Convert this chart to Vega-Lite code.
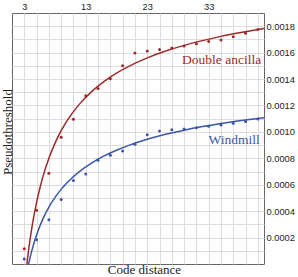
{
  "$schema": "https://vega.github.io/schema/vega-lite/v6.json",
  "width": 252,
  "height": 251,
  "autosize": {"type": "none"},
  "padding": {"left": 12, "top": 13, "right": 34, "bottom": 13},
  "background": "white",
  "config": {
    "view": {"stroke": "#666666", "strokeWidth": 1},
    "axis": {
      "labelFont": "Liberation Sans",
      "labelFontSize": 9.3,
      "labelColor": "#222222",
      "titleFont": "Liberation Serif",
      "titleFontSize": 13,
      "titleFontWeight": "normal",
      "titleColor": "#222222",
      "gridColor": "#dddddd",
      "gridWidth": 1,
      "domain": false,
      "ticks": false,
      "tickSize": 0
    }
  },
  "datasets": {
    "curves": [
      {"d": 3.42, "value": 0, "series": "Double ancilla"},
      {"d": 3.6, "value": 0.0000694, "series": "Double ancilla"},
      {"d": 3.8, "value": 0.000140, "series": "Double ancilla"},
      {"d": 4.0, "value": 0.000205, "series": "Double ancilla"},
      {"d": 4.3, "value": 0.000294, "series": "Double ancilla"},
      {"d": 4.6, "value": 0.000373, "series": "Double ancilla"},
      {"d": 5.0, "value": 0.000467, "series": "Double ancilla"},
      {"d": 5.5, "value": 0.000568, "series": "Double ancilla"},
      {"d": 6.0, "value": 0.000656, "series": "Double ancilla"},
      {"d": 7.0, "value": 0.000800, "series": "Double ancilla"},
      {"d": 8.0, "value": 0.000915, "series": "Double ancilla"},
      {"d": 9.0, "value": 0.001009, "series": "Double ancilla"},
      {"d": 10.0, "value": 0.001087, "series": "Double ancilla"},
      {"d": 12.0, "value": 0.001212, "series": "Double ancilla"},
      {"d": 14.0, "value": 0.001307, "series": "Double ancilla"},
      {"d": 16.0, "value": 0.001383, "series": "Double ancilla"},
      {"d": 18.0, "value": 0.001445, "series": "Double ancilla"},
      {"d": 20.0, "value": 0.001496, "series": "Double ancilla"},
      {"d": 23.0, "value": 0.001560, "series": "Double ancilla"},
      {"d": 26.0, "value": 0.001612, "series": "Double ancilla"},
      {"d": 29.0, "value": 0.001655, "series": "Double ancilla"},
      {"d": 32.0, "value": 0.001691, "series": "Double ancilla"},
      {"d": 35.0, "value": 0.001723, "series": "Double ancilla"},
      {"d": 38.0, "value": 0.001750, "series": "Double ancilla"},
      {"d": 42.0, "value": 0.001782, "series": "Double ancilla"},
      {"d": 3.7, "value": 0, "series": "Windmill"},
      {"d": 3.9, "value": 0.000041, "series": "Windmill"},
      {"d": 4.1, "value": 0.0000788, "series": "Windmill"},
      {"d": 4.4, "value": 0.000131, "series": "Windmill"},
      {"d": 4.7, "value": 0.000178, "series": "Windmill"},
      {"d": 5.0, "value": 0.000220, "series": "Windmill"},
      {"d": 5.5, "value": 0.000283, "series": "Windmill"},
      {"d": 6.0, "value": 0.000338, "series": "Windmill"},
      {"d": 7.0, "value": 0.000430, "series": "Windmill"},
      {"d": 8.0, "value": 0.000504, "series": "Windmill"},
      {"d": 9.0, "value": 0.000565, "series": "Windmill"},
      {"d": 10.0, "value": 0.000617, "series": "Windmill"},
      {"d": 12.0, "value": 0.000701, "series": "Windmill"},
      {"d": 14.0, "value": 0.000766, "series": "Windmill"},
      {"d": 16.0, "value": 0.000818, "series": "Windmill"},
      {"d": 18.0, "value": 0.000861, "series": "Windmill"},
      {"d": 20.0, "value": 0.000898, "series": "Windmill"},
      {"d": 23.0, "value": 0.000944, "series": "Windmill"},
      {"d": 26.0, "value": 0.000982, "series": "Windmill"},
      {"d": 29.0, "value": 0.001013, "series": "Windmill"},
      {"d": 32.0, "value": 0.001040, "series": "Windmill"},
      {"d": 35.0, "value": 0.001064, "series": "Windmill"},
      {"d": 38.0, "value": 0.001084, "series": "Windmill"},
      {"d": 42.0, "value": 0.001108, "series": "Windmill"}
    ],
    "points": [
      {"d": 3, "value": 0.000116, "series": "Double ancilla"},
      {"d": 5, "value": 0.000406, "series": "Double ancilla"},
      {"d": 7, "value": 0.000687, "series": "Double ancilla"},
      {"d": 9, "value": 0.000959, "series": "Double ancilla"},
      {"d": 11, "value": 0.001096, "series": "Double ancilla"},
      {"d": 13, "value": 0.001273, "series": "Double ancilla"},
      {"d": 15, "value": 0.001329, "series": "Double ancilla"},
      {"d": 17, "value": 0.001402, "series": "Double ancilla"},
      {"d": 19, "value": 0.001501, "series": "Double ancilla"},
      {"d": 21, "value": 0.001598, "series": "Double ancilla"},
      {"d": 23, "value": 0.001613, "series": "Double ancilla"},
      {"d": 25, "value": 0.001623, "series": "Double ancilla"},
      {"d": 27, "value": 0.001636, "series": "Double ancilla"},
      {"d": 29, "value": 0.001651, "series": "Double ancilla"},
      {"d": 31, "value": 0.001667, "series": "Double ancilla"},
      {"d": 33, "value": 0.001684, "series": "Double ancilla"},
      {"d": 35, "value": 0.001696, "series": "Double ancilla"},
      {"d": 37, "value": 0.001720, "series": "Double ancilla"},
      {"d": 39, "value": 0.001747, "series": "Double ancilla"},
      {"d": 41, "value": 0.001775, "series": "Double ancilla"},
      {"d": 3, "value": 0.000038, "series": "Windmill"},
      {"d": 5, "value": 0.000183, "series": "Windmill"},
      {"d": 7, "value": 0.000335, "series": "Windmill"},
      {"d": 9, "value": 0.000489, "series": "Windmill"},
      {"d": 11, "value": 0.000632, "series": "Windmill"},
      {"d": 13, "value": 0.000682, "series": "Windmill"},
      {"d": 15, "value": 0.000786, "series": "Windmill"},
      {"d": 17, "value": 0.000824, "series": "Windmill"},
      {"d": 19, "value": 0.000855, "series": "Windmill"},
      {"d": 21, "value": 0.000906, "series": "Windmill"},
      {"d": 23, "value": 0.000979, "series": "Windmill"},
      {"d": 25, "value": 0.001007, "series": "Windmill"},
      {"d": 27, "value": 0.001017, "series": "Windmill"},
      {"d": 29, "value": 0.001022, "series": "Windmill"},
      {"d": 31, "value": 0.001032, "series": "Windmill"},
      {"d": 33, "value": 0.001043, "series": "Windmill"},
      {"d": 35, "value": 0.001052, "series": "Windmill"},
      {"d": 37, "value": 0.001065, "series": "Windmill"},
      {"d": 39, "value": 0.001078, "series": "Windmill"},
      {"d": 41, "value": 0.001098, "series": "Windmill"}
    ],
    "labels": [
      {"d": 41.55, "value": 0.001547, "series": "Double ancilla"},
      {"d": 41.3, "value": 0.000941, "series": "Windmill"}
    ]
  },
  "resolve": {"axis": {"x": "independent", "y": "independent"}},
  "layer": [
    {
      "data": {"name": "curves"},
      "mark": {"type": "line", "strokeWidth": 1.5, "clip": true, "interpolate": "monotone"},
      "encoding": {
        "x": {
          "field": "d", "type": "quantitative",
          "scale": {"domain": [1, 42], "nice": false, "zero": false},
          "axis": {
            "orient": "bottom",
            "values": [3, 5, 7, 9, 11, 13, 15, 17, 19, 21, 23, 25, 27, 29, 31, 33, 35, 37, 39, 41],
            "grid": true, "labels": false, "title": "Code distance",
            "titleX": 132, "titleY": 9.8, "titleBaseline": "alphabetic", "titleAlign": "center"
          }
        },
        "y": {
          "field": "value", "type": "quantitative",
          "scale": {"domain": [0, 0.0019], "nice": false, "zero": true},
          "axis": {
            "orient": "left",
            "values": [0.0001, 0.0002, 0.0003, 0.0004, 0.0005, 0.0006, 0.0007, 0.0008, 0.0009, 0.001, 0.0011, 0.0012, 0.0013, 0.0014, 0.0015, 0.0016, 0.0017, 0.0018],
            "grid": true, "labels": false, "title": "Pseudothreshold",
            "titleX": -0.8, "titleY": 118.5, "titleAngle": 270, "titleBaseline": "alphabetic", "titleAlign": "center"
          }
        },
        "color": {
          "field": "series", "type": "nominal",
          "scale": {"domain": ["Double ancilla", "Windmill"], "range": ["#9c2a2a", "#3a56a8"]},
          "legend": null
        },
        "detail": {"field": "series"}
      }
    },
    {
      "data": {"name": "points"},
      "mark": {"type": "circle", "size": 9, "opacity": 1},
      "encoding": {
        "x": {
          "field": "d", "type": "quantitative",
          "axis": {
            "orient": "top", "values": [3, 13, 23, 33], "grid": false, "title": null,
            "labelPadding": 4, "labelBaseline": "alphabetic"
          }
        },
        "y": {
          "field": "value", "type": "quantitative",
          "axis": {
            "orient": "right",
            "values": [0.0002, 0.0004, 0.0006, 0.0008, 0.001, 0.0012, 0.0014, 0.0016, 0.0018],
            "format": ".4f", "grid": false, "title": null, "labelPadding": 2
          }
        },
        "color": {"field": "series", "type": "nominal", "legend": null}
      }
    },
    {
      "data": {"name": "labels"},
      "mark": {"type": "text", "align": "right", "baseline": "middle", "font": "Liberation Serif", "fontSize": 13.5},
      "encoding": {
        "x": {"field": "d", "type": "quantitative", "axis": null},
        "y": {"field": "value", "type": "quantitative", "axis": null},
        "text": {"field": "series"},
        "color": {"field": "series", "type": "nominal", "legend": null}
      }
    }
  ]
}
